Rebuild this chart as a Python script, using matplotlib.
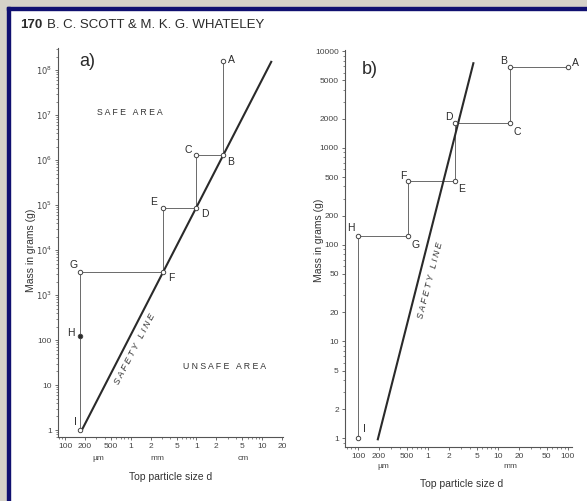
import matplotlib.pyplot as plt
from matplotlib.patches import Rectangle
from matplotlib.ticker import FixedLocator, FixedFormatter, LogLocator, NullFormatter

plt.rcParams['font.family'] = ['Liberation Sans', 'DejaVu Sans']

# point labels shared by both panels
point_labels = ['A', 'B', 'C', 'D', 'E', 'F', 'G', 'H', 'I']

# panel a: top particle size (mm) and sample mass (g)
size_a = [25, 25, 10, 10, 3.1, 3.1, 0.17, 0.17, 0.17]
mass_a = [1.6e8, 1.3e6, 1.3e6, 8.6e4, 8.6e4, 3200, 3200, 120, 1]
safety_size_a = [0.18, 140]
safety_mass_a = [1, 1.6e8]
xticks_a = [0.1, 0.2, 0.5, 1, 2, 5, 10, 20, 50, 100, 200]
xticklabels_a = ['100', '200', '500', '1', '2', '5', '1', '2', '5', '10', '20']
yticks_a = [1, 10, 100, 1e3, 1e4, 1e5, 1e6, 1e7, 1e8]
yticklabels_a = ['1', '10', '100', r'$10^3$', r'$10^4$', r'$10^5$', r'$10^6$', r'$10^7$', r'$10^8$']

# panel b
size_b = [100, 15, 15, 2.4, 2.4, 0.52, 0.52, 0.1, 0.1]
mass_b = [6800, 6800, 1830, 1830, 460, 460, 124, 124, 1]
safety_size_b = [0.19, 4.5]
safety_mass_b = [0.95, 7700]
xticks_b = [0.1, 0.2, 0.5, 1, 2, 5, 10, 20, 50, 100]
xticklabels_b = ['100', '200', '500', '1', '2', '5', '10', '20', '50', '100']
yticks_b = [1, 2, 5, 10, 20, 50, 100, 200, 500, 1000, 2000, 5000, 10000]
yticklabels_b = [str(v) for v in yticks_b]

# label offsets in pixels (dx, dy), y up
offsets_a = [(9, 1), (8, -7), (-8, 5), (8, -6), (-9, 6), (8, -6), (-7, 7), (-9, 3), (-5, 8)]
offsets_b = [(8, 4), (-7, 6), (7, -9), (-6, 6), (7, -8), (-5, 5), (7, -9), (-7, 8), (6, 9)]

INK = '#2a2a2a'
GREY = '#555555'

fig = plt.figure(figsize=(5.87, 5.01), dpi=100)
fig.patch.set_facecolor('white')

# page frame: grey margin with a navy rule
fig.add_artist(Rectangle((0, 1 - 7 / 501), 1, 7 / 501, transform=fig.transFigure,
                         color='#d5d2c8', zorder=0))
fig.add_artist(Rectangle((0, 0), 7 / 587, 1, transform=fig.transFigure,
                         color='#d5d2c8', zorder=0))
fig.add_artist(Rectangle((7 / 587, 1 - 10 / 501), 1, 3 / 501, transform=fig.transFigure,
                         color='#101070', zorder=1))
fig.add_artist(Rectangle((7 / 587, 0), 3 / 587, 1 - 7 / 501, transform=fig.transFigure,
                         color='#101070', zorder=1))

fig.text(20 / 587, 1 - 25 / 501, '170', fontsize=9.5, fontweight='bold', color=INK,
         va='center', ha='left')
fig.text(47 / 587, 1 - 25 / 501, 'B. C. SCOTT & M. K. G. WHATELEY', fontsize=9.5,
         color=INK, va='center', ha='left')


def style_axes(ax, xticks, xlabels, yticks, ylabels):
    ax.set_xscale('log')
    ax.set_yscale('log')
    for s in ['top', 'right']:
        ax.spines[s].set_visible(False)
    for s in ['left', 'bottom']:
        ax.spines[s].set_color(GREY)
        ax.spines[s].set_linewidth(0.8)
    ax.xaxis.set_major_locator(FixedLocator(xticks))
    ax.xaxis.set_major_formatter(FixedFormatter(xlabels))
    ax.yaxis.set_major_locator(FixedLocator(yticks))
    ax.yaxis.set_major_formatter(FixedFormatter(ylabels))
    ax.xaxis.set_minor_locator(LogLocator(base=10, subs=(3, 4, 6, 7, 8, 9), numticks=20))
    ax.yaxis.set_minor_locator(LogLocator(base=10, subs=(2, 3, 4, 5, 6, 7, 8, 9), numticks=20))
    ax.xaxis.set_minor_formatter(NullFormatter())
    ax.yaxis.set_minor_formatter(NullFormatter())
    ax.tick_params(which='major', length=2.5, width=0.6, color=GREY, labelsize=6,
                   labelcolor='#444444', pad=2)
    ax.tick_params(which='minor', length=1.5, width=0.5, color=GREY)
    ax.set_ylabel('Mass in grams (g)', fontsize=7.5, color='#333333')


def draw_panel(ax, sizes, masses, ssize, smass, offsets, filled):
    ax.plot(sizes, masses, color='#6a6a6a', lw=0.7, zorder=2)
    ax.plot(ssize, smass, color=INK, lw=1.5, zorder=3, solid_capstyle='butt')
    for i, (x, y, lab, off) in enumerate(zip(sizes, masses, point_labels, offsets)):
        face = INK if i in filled else 'white'
        ax.plot([x], [y], 'o', ms=3.2, mfc=face, mec='#444444', mew=0.7, zorder=4)
        ax.annotate(lab, (x, y), xytext=off, textcoords='offset pixels', fontsize=7.5,
                    color=INK, ha='center', va='center', zorder=5)


# panel a
ax1 = fig.add_axes([58 / 587, 1 - 437 / 501, 225 / 587, 389 / 501])
ax1.set_facecolor('none')
style_axes(ax1, xticks_a, xticklabels_a, yticks_a, yticklabels_a)
draw_panel(ax1, size_a, mass_a, safety_size_a, safety_mass_a, offsets_a, filled=[7])
ax1.set_xlim(0.078, 208)
ax1.set_ylim(0.70, 3.1e8)
ax1.set_xlabel('Top particle size d', fontsize=7.5, color='#333333')
ax1.xaxis.set_label_coords(0.5, -0.09)
ax1.yaxis.set_label_coords(-0.097, 0.48)
xt = ax1.get_xaxis_transform()
ax1.text(0.32, -0.054, 'µm', transform=xt, fontsize=6, color='#444444', ha='center', va='center')
ax1.text(2.5, -0.054, 'mm', transform=xt, fontsize=6, color='#444444', ha='center', va='center')
ax1.text(51, -0.054, 'cm', transform=xt, fontsize=6, color='#444444', ha='center', va='center')
ax1.text(0.13, 0.965, 'a)', transform=ax1.transAxes, fontsize=13, color=INK, ha='center', va='center')
ax1.text(0.32, 0.835, 'S A F E   A R E A', transform=ax1.transAxes, fontsize=6.3,
         color='#333333', ha='center', va='center')
ax1.text(0.742, 0.182, 'U N S A F E   A R E A', transform=ax1.transAxes, fontsize=6.3,
         color='#333333', ha='center', va='center')
ax1.text(0.34, 0.225, 'S A F E T Y   L I N E', transform=ax1.transAxes, fontsize=6.3,
         color='#333333', ha='center', va='center', rotation=62.5, style='italic')

# panel b
ax2 = fig.add_axes([345 / 587, 1 - 447 / 501, 227 / 587, 397 / 501])
ax2.set_facecolor('none')
style_axes(ax2, xticks_b, xticklabels_b, yticks_b, yticklabels_b)
draw_panel(ax2, size_b, mass_b, safety_size_b, safety_mass_b, offsets_b, filled=[])
ax2.set_xlim(0.065, 115)
ax2.set_ylim(0.81, 10300)
ax2.set_xlabel('Top particle size d', fontsize=7.5, color='#333333')
ax2.xaxis.set_label_coords(0.515, -0.081)
ax2.yaxis.set_label_coords(-0.093, 0.52)
xt2 = ax2.get_xaxis_transform()
ax2.text(0.23, -0.05, 'µm', transform=xt2, fontsize=6, color='#444444', ha='center', va='center')
ax2.text(15, -0.05, 'mm', transform=xt2, fontsize=6, color='#444444', ha='center', va='center')
ax2.text(0.11, 0.95, 'b)', transform=ax2.transAxes, fontsize=13, color=INK, ha='center', va='center')
ax2.text(0.378, 0.421, 'S A F E T Y   L I N E', transform=ax2.transAxes, fontsize=6.3,
         color='#333333', ha='center', va='center', rotation=75.5, style='italic')

fig.savefig('out.png', dpi=100)
